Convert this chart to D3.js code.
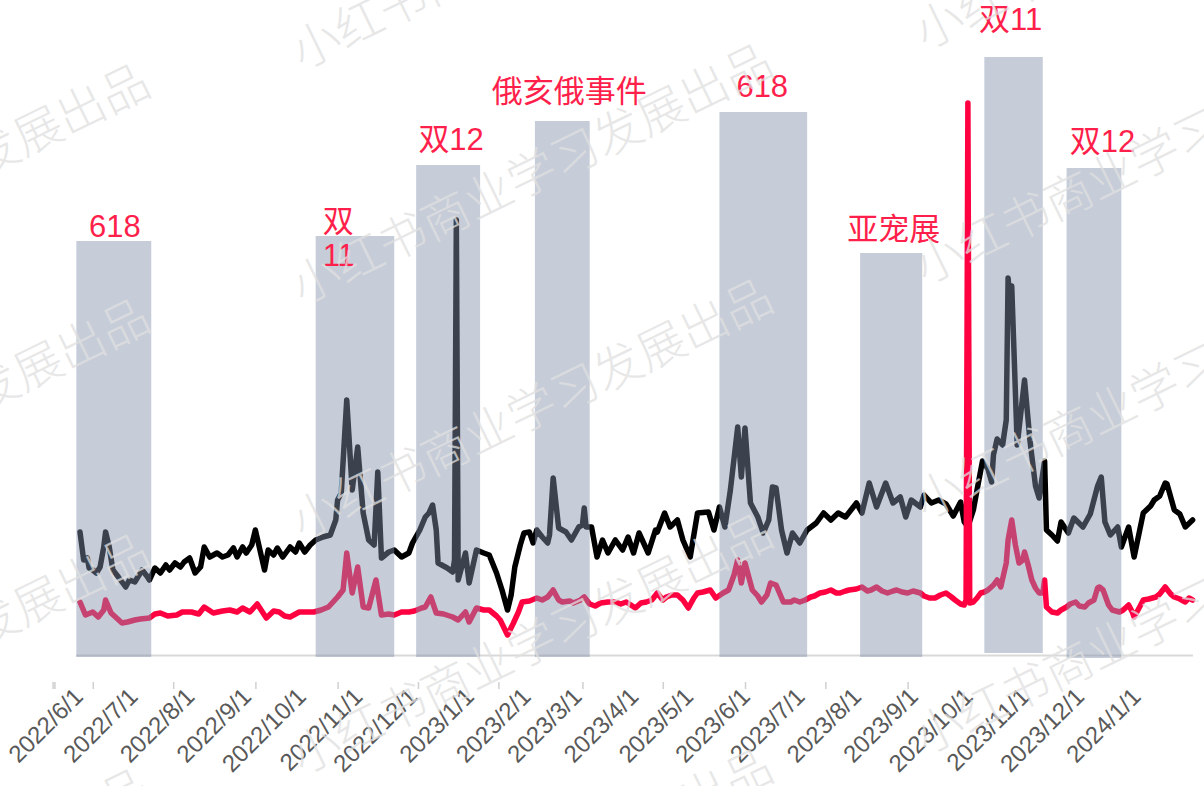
<!DOCTYPE html>
<meta charset="utf-8">
<style>
body { margin: 0; background: #fff; }
svg { display: block; font-family: "Liberation Sans", Arial, "Noto Sans CJK SC", sans-serif; }
.line { fill: none; stroke-width: 5.5; stroke-linejoin: round; stroke-linecap: round; }
.event { fill: rgb(130,145,171); fill-opacity: .455; }
.event-label { fill: #ff1f4b; font-size: 31px; }
.date-axis text { fill: #595959; font-size: 24px; }
.date-axis .domain { stroke: #d9d9d9; stroke-width: 2; }
.mark-axis line { stroke: #d0d0d0; stroke-width: 1.5; }
.mark-axis .domain { display: none; }
.watermark { fill: #e0e0e0; fill-opacity: .75; font-family: "Noto Sans CJK SC"; font-size: 48px; font-weight: 300; }
</style>
<body>
<script src="https://d3js.org/d3.v7.min.js"></script>
<script>

var width = 1204,
    height = 786;

// day offsets from 2022/6/1 and index values
var blackSeries = [
  [0,123],[2,95],[4,97],[5,87],[7,85],[9,82],[11,88],[13,108],[14,123],[16,108],[18,85],[21,78],[25,68],[27,75],[30,73],
  [34,85],[37,78],[38,75],[41,87],[44,82],[47,90],[49,85],[52,92],[55,88],[57,93],[60,97],[63,82],[66,88],[68,108],[71,98],
  [75,102],[78,98],[81,100],[84,107],[86,98],[89,108],[91,102],[94,110],[96,125],[101,85],[103,105],[106,100],[108,107],
  [111,98],[115,108],[118,103],[120,112],[123,103],[126,110],[129,115],[133,118],[137,120],[140,135],[141,155],[143,162],
  [146,255],[149,165],[152,208],[155,142],[158,115],[161,110],[163,183],[165,97],[169,103],[172,105],[176,98],[180,102],
  [182,112],[186,125],[189,138],[191,142],[193,150],[195,125],[196,92],[201,87],[204,83],[205,95],[206,435],[207,75],
  [211,102],[213,72],[217,105],[221,102],[224,100],[228,82],[231,65],[234,45],[236,60],[238,88],[241,110],[243,122],
  [246,123],[248,112],[250,125],[253,118],[256,112],[257,120],[259,177],[262,127],[264,125],[266,123],[269,115],[273,128],
  [275,130],[276,147],[277,128],[280,128],[283,98],[286,115],[289,102],[293,115],[297,105],[300,118],[303,102],[306,122],
  [311,102],[315,125],[316,123],[320,142],[323,128],[327,135],[330,115],[334,98],[338,142],[344,143],[347,125],[350,148],
  [353,128],[356,165],[360,228],[362,178],[364,227],[367,152],[371,138],[374,122],[377,135],[379,168],[381,167],[384,125],
  [387,102],[390,122],[394,112],[398,125],[403,132],[407,142],[411,135],[415,142],[419,138],[425,152],[428,142],[432,172],
  [436,148],[441,172],[445,152],[449,158],[452,138],[455,155],[460,148],[462,160],[466,152],[470,155],[474,151],[478,139],
  [482,153],[484,133],[486,128],[489,145],[491,165],[494,194],[497,186],[499,173],[500,200],[502,216],[505,210],[507,235],
  [508,377],[509,355],[510,369],[513,210],[517,275],[520,214],[523,169],[525,157],[528,194],[529,125],[532,120],[535,114],
  [537,133],[541,122],[544,137],[549,128],[553,141],[557,169],[559,178],[561,133],[564,120],[568,128],[570,108],[574,128],
  [577,98],[582,142],[586,149],[588,155],[591,159],[594,172],[595,171],[599,145],[602,141],[605,128],[609,135]
];

var redSeries = [
  [0,53],[3,40],[7,43],[10,38],[13,45],[14,55],[17,42],[20,37],[23,32],[26,33],[30,35],[33,36],[38,37],[41,41],[44,42],
  [48,39],[53,40],[56,43],[61,43],[65,41],[68,48],[73,42],[78,44],[82,45],[86,43],[89,47],[93,43],[97,51],[102,37],[106,44],
  [109,43],[112,39],[115,38],[120,43],[124,43],[128,43],[132,45],[136,48],[141,58],[144,65],[146,102],[149,62],[152,88],
  [155,48],[158,47],[162,75],[165,40],[169,41],[172,40],[176,43],[180,43],[183,44],[187,47],[189,48],[192,58],[195,42],
  [199,41],[204,38],[207,35],[211,43],[213,33],[217,47],[221,45],[224,45],[228,39],[230,35],[234,20],[237,31],[240,43],
  [242,53],[246,54],[250,57],[253,55],[256,58],[259,65],[262,55],[264,53],[268,54],[270,52],[274,55],[276,58],[279,51],
  [282,49],[285,52],[289,53],[293,53],[296,51],[299,53],[304,47],[307,52],[310,53],[313,55],[316,62],[319,55],[321,58],
  [324,60],[327,60],[330,55],[333,47],[336,57],[338,62],[341,63],[345,65],[348,57],[352,62],[355,65],[358,80],[360,95],
  [362,72],[364,92],[368,65],[371,59],[373,53],[376,60],[378,72],[381,70],[385,53],[389,53],[391,55],[394,53],[397,55],
  [400,58],[402,59],[405,62],[408,63],[411,65],[414,62],[416,62],[419,64],[421,65],[425,66],[428,68],[431,64],[433,65],
  [436,68],[439,64],[442,62],[445,64],[447,65],[450,63],[453,62],[456,64],[460,62],[462,59],[465,57],[468,57],[471,60],
  [474,62],[477,58],[479,55],[482,51],[484,50],[485,55],[486,552],[487,52],[489,53],[491,57],[493,62],[495,63],[497,65],
  [500,70],[502,75],[504,68],[507,92],[508,115],[510,135],[512,110],[514,92],[516,95],[517,103],[519,90],[521,75],[523,67],
  [525,62],[527,62],[528,75],[529,48],[532,43],[535,42],[537,45],[540,48],[542,51],[545,53],[547,49],[550,48],[552,52],
  [555,55],[557,67],[558,68],[560,65],[563,50],[565,45],[569,43],[571,45],[574,50],[576,43],[577,38],[580,48],[582,55],
  [585,56],[589,58],[591,61],[594,68],[597,61],[599,58],[602,56],[605,53],[607,57],[609,55]
];

// shaded event periods
var eventNames = ["618", "双11", "双12", "俄亥俄事件", "618", "亚宠展", "双11", "双12"];
var eventStart = ["2022/5/30", "2022/10/8", "2022/12/2", "2023/2/5", "2023/5/17", "2023/8/2", "2023/10/9", "2023/11/23"];
var eventEnd   = ["2022/7/10", "2022/11/20", "2023/1/6", "2023/3/7", "2023/7/4", "2023/9/5", "2023/11/10", "2023/12/23"];
var eventTop   = [414, 419, 490, 534, 543, 402, 598, 487];
var eventBase  = [-2, -2, -2, -2, -2, -2, 2, -3];

var monthLabels = ["2022/6/1", "2022/7/1", "2022/8/1", "2022/9/1", "2022/10/1", "2022/11/1", "2022/12/1",
  "2023/1/1", "2023/2/1", "2023/3/1", "2023/4/1", "2023/5/1", "2023/6/1", "2023/7/1", "2023/8/1",
  "2023/9/1", "2023/10/1", "2023/11/1", "2023/12/1", "2024/1/1"];
var markDates = ["2022/5/17", "2022/5/18", "2022/6/8", "2022/7/22", "2022/9/5", "2022/10/20", "2022/12/3",
  "2023/1/16", "2023/3/3", "2023/4/16", "2023/5/31", "2023/7/14", "2023/8/28"];

// label nudges [dx, gap above bar]
var labelNudge = [[1, 4], [0, 4], [3, 15], [7, 19], [-1, 15], [2.5, 13], [-3, 27], [8.5, 16]];

var parse = d3.timeParse("%Y/%m/%d");
var start = parse("2022/6/1");
function day(d) { return d3.timeDay.offset(start, d); }

var x = d3.scaleTime()
    .domain([start, parse("2024/1/31")])
    .range([80, 1192.6]);

var y = d3.scaleLinear()
    .domain([0, 600])
    .range([655, 55]);

var svg = d3.select("body").append("svg")
    .attr("width", width)
    .attr("height", height);

// date axis
var axisG = svg.append("g")
    .attr("class", "date-axis")
    .attr("transform", "translate(0," + y(0) + ")")
    .call(d3.axisBottom(x)
      .tickValues(monthLabels.map(parse))
      .tickSize(0)
      .tickSizeOuter(0)
      .tickFormat(function(d, i) { return monthLabels[i]; }));
axisG.select(".domain").attr("d", "M76,0.5H1193");
axisG.selectAll("text")
    .attr("y", 0)
    .attr("dy", 0)
    .attr("text-anchor", "end")
    .attr("transform", "translate(4,43) rotate(-45)");

svg.append("g")
    .attr("class", "mark-axis")
    .attr("transform", "translate(0,682)")
    .call(d3.axisBottom(x)
      .tickValues(markDates.map(parse))
      .tickSize(7)
      .tickFormat(""));

var line = d3.line()
    .x(function(d) { return x(day(d[0])); })
    .y(function(d) { return y(d[1]); });

svg.append("path")
    .datum(blackSeries)
    .attr("class", "line")
    .attr("stroke", "#000")
    .attr("d", line);

svg.append("path")
    .datum(redSeries)
    .attr("class", "line")
    .attr("stroke", "#ff0040")
    .attr("d", line);

var events = eventNames.map(function(n, i) {
  return { name: n, s: parse(eventStart[i]), e: parse(eventEnd[i]), top: eventTop[i], base: eventBase[i], nudge: labelNudge[i] };
});

svg.append("g").selectAll("rect")
    .data(events)
  .enter().append("rect")
    .attr("class", "event")
    .attr("x", function(d) { return x(d.s); })
    .attr("width", function(d) { return x(d.e) - x(d.s); })
    .attr("y", function(d) { return y(d.top); })
    .attr("height", function(d) { return y(d.base) - y(d.top); });

var labels = svg.append("g").selectAll("text")
    .data(events)
  .enter().append("text")
    .attr("class", "event-label");

labels.each(function(d, i) {
  var t = d3.select(this);
  if (i === 1) {
    // narrow box: wraps onto two lines
    var lx = x(d.s) + 7;
    t.attr("text-anchor", "start");
    t.append("tspan").attr("x", lx).attr("y", y(d.top) - d.nudge[1]).text(d.name.slice(0, 1));
    t.append("tspan").attr("x", lx).attr("dy", 34).text(d.name.slice(1));
  } else {
    t.attr("text-anchor", "middle")
      .attr("x", (x(d.s) + x(d.e)) / 2 + d.nudge[0])
      .attr("y", y(d.top) - d.nudge[1])
      .text(d.name);
  }
});

// watermark
var wm = svg.append("g").attr("pointer-events", "none");
for (var c = -1; c <= 1; c++) {
  for (var r = -1; r <= 3; r++) {
    wm.append("text")
      .attr("class", "watermark")
      .attr("transform", "translate(" + (302 + c * 623) + "," + (305 + r * 235 - c * 20) + ") rotate(-26)")
      .text("小红书商业学习发展出品");
  }
}

</script>
